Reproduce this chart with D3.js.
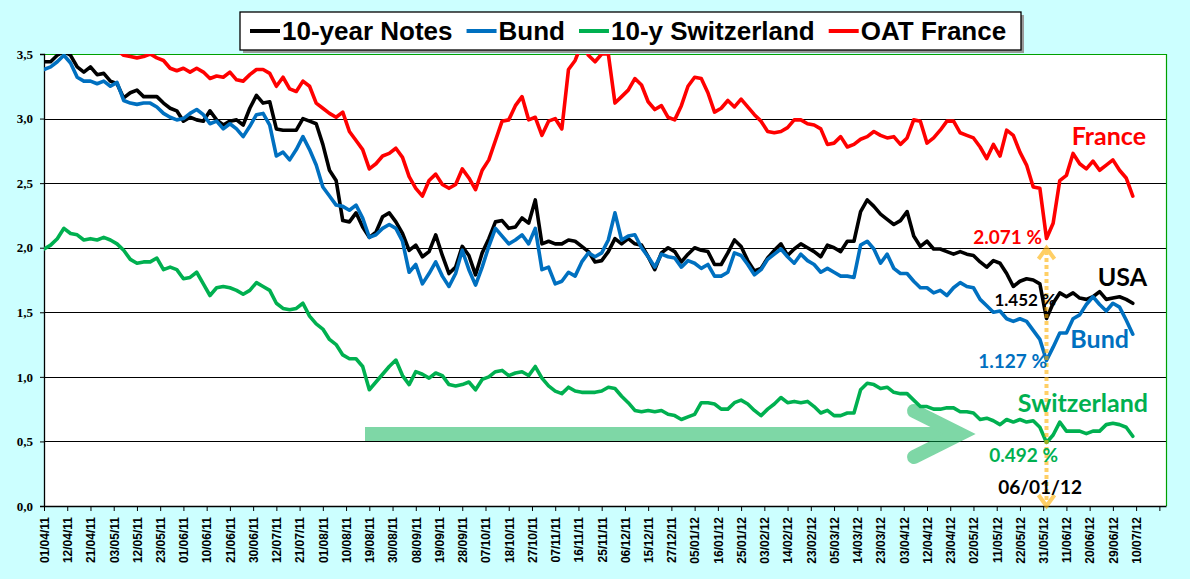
<!DOCTYPE html>
<html><head><meta charset="utf-8">
<script src="https://cdn.jsdelivr.net/npm/d3@7"></script>
<style>
body{margin:0;background:#CCFFFF;overflow:hidden}
svg{display:block}
</style>
</head><body>
<svg id="chart" width="1190" height="579"></svg>
<script>
// ---------- DATA ----------
const tickLabels = ["01/04/11","12/04/11","21/04/11","03/05/11","12/05/11","23/05/11","01/06/11","10/06/11","21/06/11","30/06/11","12/07/11","21/07/11","01/08/11","10/08/11","19/08/11","30/08/11","08/09/11","19/09/11","28/09/11","07/10/11","18/10/11","27/10/11","07/11/11","16/11/11","25/11/11","06/12/11","15/12/11","27/12/11","05/01/12","16/01/12","25/01/12","03/02/12","14/02/12","23/02/12","05/03/12","14/03/12","23/03/12","03/04/12","12/04/12","23/04/12","02/05/12","11/05/12","22/05/12","31/05/12","11/06/12","20/06/12","29/06/12","10/07/12"];
const yTickValues = [0, 0.5, 1.0, 1.5, 2.0, 2.5, 3.0, 3.5];
const daysPerLabel = 7;       // trading days between labelled ticks
const daysPerSample = 2;      // trading days between values below
const totalDays = 338;

const seriesNames = ["10-year Notes", "Bund", "10-y Switzerland", "OAT France"];

const usNotes = [3.44,3.44,3.49,3.52,3.49,3.40,3.36,3.40,3.34,3.35,3.29,3.27,3.16,3.20,3.22,3.17,3.17,3.17,3.12,3.08,3.06,2.98,3.01,2.99,2.98,3.06,2.99,2.95,2.98,2.99,2.95,3.08,3.18,3.12,3.13,2.92,2.91,2.91,2.91,3.00,2.98,2.96,2.80,2.60,2.52,2.21,2.20,2.27,2.16,2.08,2.12,2.24,2.27,2.20,2.11,1.98,2.02,1.93,1.97,2.10,1.94,1.80,1.85,2.01,1.94,1.79,1.96,2.07,2.20,2.21,2.15,2.16,2.23,2.19,2.37,2.03,2.05,2.03,2.03,2.06,2.05,2.01,1.97,1.89,1.90,1.97,2.07,2.03,2.07,2.03,2.02,1.93,1.83,1.96,2.00,1.97,1.89,1.95,2.00,1.98,1.97,1.87,1.87,1.96,2.06,2.01,1.90,1.82,1.84,1.92,1.98,2.03,1.94,1.99,2.03,2.00,1.97,1.93,2.02,2.00,1.97,2.05,2.05,2.28,2.37,2.32,2.26,2.22,2.18,2.21,2.28,2.09,2.01,2.05,1.99,1.99,1.97,1.95,1.97,1.95,1.94,1.89,1.85,1.90,1.88,1.80,1.70,1.74,1.76,1.75,1.72,1.452,1.57,1.65,1.62,1.65,1.61,1.60,1.62,1.66,1.60,1.61,1.62,1.60,1.57];

const bund = [3.38,3.40,3.44,3.49,3.43,3.32,3.29,3.29,3.27,3.29,3.25,3.28,3.14,3.12,3.11,3.12,3.12,3.09,3.04,3.01,2.99,3.00,3.04,3.07,3.03,2.96,2.98,2.92,2.96,2.92,2.86,2.94,3.03,3.04,2.95,2.71,2.74,2.68,2.76,2.86,2.76,2.64,2.47,2.40,2.33,2.32,2.29,2.33,2.23,2.08,2.10,2.15,2.18,2.15,2.05,1.81,1.87,1.72,1.80,1.89,1.78,1.70,1.80,1.98,1.83,1.71,1.85,2.01,2.15,2.09,2.03,2.06,2.10,2.03,2.15,1.83,1.85,1.72,1.74,1.81,1.78,1.89,1.96,1.93,1.96,2.06,2.27,2.06,2.09,2.10,2.00,1.93,1.85,1.95,1.93,1.92,1.85,1.90,1.88,1.84,1.87,1.78,1.78,1.81,1.96,1.94,1.87,1.79,1.83,1.91,1.95,1.99,1.93,1.88,1.95,1.90,1.87,1.81,1.84,1.81,1.78,1.78,1.77,2.02,2.05,1.99,1.88,1.95,1.84,1.80,1.80,1.74,1.69,1.69,1.65,1.67,1.63,1.69,1.73,1.70,1.69,1.60,1.55,1.50,1.51,1.45,1.43,1.45,1.43,1.36,1.29,1.127,1.23,1.34,1.34,1.45,1.48,1.56,1.62,1.56,1.51,1.57,1.54,1.44,1.33];

const swiss = [1.99,2.02,2.07,2.15,2.11,2.10,2.06,2.07,2.06,2.08,2.06,2.03,1.98,1.91,1.88,1.89,1.89,1.92,1.83,1.85,1.83,1.76,1.77,1.81,1.72,1.63,1.69,1.70,1.69,1.67,1.64,1.67,1.73,1.70,1.67,1.57,1.53,1.52,1.53,1.57,1.47,1.41,1.37,1.29,1.25,1.17,1.14,1.14,1.08,0.90,0.96,1.02,1.08,1.13,1.01,0.94,1.04,1.02,0.99,1.03,1.01,0.94,0.93,0.94,0.96,0.90,0.98,1.00,1.04,1.05,1.01,1.03,1.04,1.01,1.08,0.99,0.93,0.89,0.87,0.92,0.89,0.88,0.88,0.88,0.89,0.92,0.91,0.85,0.80,0.74,0.73,0.74,0.73,0.74,0.71,0.70,0.67,0.69,0.71,0.80,0.80,0.79,0.75,0.75,0.80,0.82,0.79,0.74,0.70,0.75,0.79,0.84,0.80,0.81,0.80,0.81,0.77,0.72,0.74,0.70,0.70,0.72,0.72,0.90,0.95,0.94,0.91,0.92,0.88,0.87,0.87,0.82,0.77,0.77,0.75,0.75,0.76,0.76,0.73,0.73,0.72,0.67,0.68,0.66,0.63,0.67,0.65,0.67,0.65,0.66,0.61,0.492,0.55,0.65,0.58,0.58,0.58,0.56,0.58,0.58,0.63,0.64,0.63,0.61,0.54];

const oatFrance = [3.62,3.64,3.66,3.68,3.66,3.63,3.60,3.62,3.60,3.58,3.56,3.53,3.49,3.48,3.47,3.48,3.50,3.47,3.45,3.39,3.37,3.39,3.36,3.39,3.36,3.31,3.33,3.32,3.36,3.30,3.29,3.34,3.38,3.38,3.35,3.25,3.32,3.23,3.21,3.29,3.25,3.12,3.08,3.04,3.01,3.05,2.90,2.83,2.76,2.61,2.65,2.71,2.73,2.77,2.70,2.55,2.46,2.40,2.52,2.57,2.49,2.46,2.49,2.61,2.54,2.45,2.60,2.68,2.83,2.98,2.99,3.10,3.17,2.99,3.01,2.87,2.98,3.00,2.92,3.38,3.45,3.58,3.49,3.44,3.50,3.50,3.12,3.17,3.22,3.31,3.26,3.13,3.07,3.10,3.01,2.99,3.10,3.25,3.32,3.31,3.20,3.05,3.08,3.14,3.09,3.15,3.09,3.03,2.98,2.90,2.89,2.90,2.93,2.99,2.99,2.96,2.95,2.92,2.80,2.81,2.86,2.78,2.80,2.84,2.86,2.90,2.87,2.85,2.86,2.80,2.85,2.99,2.98,2.81,2.85,2.91,2.98,2.98,2.89,2.87,2.85,2.78,2.69,2.80,2.71,2.91,2.87,2.74,2.64,2.47,2.46,2.071,2.19,2.52,2.56,2.73,2.65,2.61,2.67,2.60,2.64,2.68,2.60,2.54,2.40];

const lowDayIndex = 302;  // 06/01/12
const lowLabels = ["2.071 %", "1.452 %", "1.127 %", "0.492 %"];
const countryLabels = ["France", "USA", "Bund", "Switzerland"];
const dateLabel = "06/01/12";

// ---------- SETUP ----------
const colors = ["#000000", "#0070C0", "#00B050", "#FF0000"];
const allSeries = [usNotes, bund, swiss, oatFrance];

const svg = d3.select("#chart");
const W = 1190, H = 579;
const plot = {left: 44, right: 1166, top: 54, bottom: 506};

const x = d3.scaleLinear().domain([0, totalDays]).range([plot.left, plot.right]);
const y = d3.scaleLinear().domain([0, 3.5]).range([plot.bottom, plot.top]);

svg.append("rect").attr("width", W).attr("height", H).attr("fill", "#CCFFFF");
svg.append("rect").attr("x", plot.left).attr("y", plot.top)
   .attr("width", plot.right - plot.left).attr("height", plot.bottom - plot.top)
   .attr("fill", "#ffffff");

svg.append("defs").append("clipPath").attr("id", "clip")
   .append("rect").attr("x", plot.left).attr("y", plot.top)
   .attr("width", plot.right - plot.left).attr("height", plot.bottom - plot.top);

// gridlines
svg.append("g").selectAll("line")
   .data(yTickValues.filter(v => v > 0 && v < 3.5))
   .join("line")
   .attr("x1", plot.left).attr("x2", plot.right)
   .attr("y1", d => Math.round(y(d)) + 0.5).attr("y2", d => Math.round(y(d)) + 0.5)
   .attr("stroke", "#000").attr("stroke-width", 1.2);

// plot border top/right (green)
svg.append("path")
   .attr("d", `M${plot.left},${plot.top + 0.5}H${plot.right + 0.5}V${plot.bottom}`)
   .attr("fill", "none").attr("stroke", "#00A000").attr("stroke-width", 1.2);

// y axis
const yAxis = d3.axisLeft(y).tickValues(yTickValues).tickSize(4).tickPadding(7)
   .tickFormat(d => d3.format(".1f")(d).replace(".", ","));
const gy = svg.append("g").attr("transform", `translate(${plot.left},0)`).call(yAxis);
gy.select(".domain").attr("stroke", "#000").attr("stroke-width", 1.3);
gy.selectAll(".tick line").attr("stroke", "#000");
gy.selectAll("text").attr("font-family", "'Liberation Serif', 'Times New Roman', serif")
   .attr("font-weight", "bold").attr("font-size", 13).attr("fill", "#000");

// x axis
const tickDays = d3.range(0, tickLabels.length + 1).map(k => k * daysPerLabel);
const xAxis = d3.axisBottom(x).tickValues(tickDays).tickSize(5).tickSizeOuter(0)
   .tickFormat((d, k) => tickLabels[k] || "");
const gx = svg.append("g").attr("transform", `translate(0,${plot.bottom})`).call(xAxis);
gx.select(".domain").attr("stroke", "#000").attr("stroke-width", 1.3);
gx.selectAll(".tick line").attr("stroke", "#000");
gx.selectAll("text")
   .attr("font-family", "'Liberation Sans', Arial, sans-serif")
   .attr("font-weight", "bold").attr("font-size", 12).attr("fill", "#000")
   .attr("text-anchor", "end")
   .attr("transform", "rotate(-90)")
   .attr("x", -11).attr("y", 0).attr("dy", "0.36em");

// green arrow (behind lines)
const arrowG = svg.append("g").attr("opacity", 0.5);
arrowG.append("line").attr("x1", 365).attr("x2", 952).attr("y1", 434).attr("y2", 434)
   .attr("stroke", "#00B050").attr("stroke-width", 14);
arrowG.append("polyline").attr("points", "914,411 960,434 914,457")
   .attr("fill", "none").attr("stroke", "#00B050").attr("stroke-width", 14)
   .attr("stroke-linecap", "round").attr("stroke-linejoin", "miter");

// lines
const line = d3.line()
   .x((d, k) => x(k * daysPerSample))
   .y(d => y(d));
const linesG = svg.append("g").attr("clip-path", "url(#clip)");
allSeries.forEach((s, k) => {
  linesG.append("path").datum(s)
    .attr("d", line)
    .attr("fill", "none")
    .attr("stroke", colors[k])
    .attr("stroke-width", 3.6)
    .attr("stroke-linejoin", "round")
    .attr("stroke-linecap", "round");
});

// dotted orange vertical arrow at the low
const xl = x(lowDayIndex);
const dg = svg.append("g").attr("opacity", 0.6);
dg.append("line").attr("x1", xl).attr("x2", xl).attr("y1", 251).attr("y2", 503)
   .attr("stroke", "#FFB000").attr("stroke-width", 4).attr("stroke-dasharray", "4,3");
dg.append("polyline").attr("points", `${xl-8},259 ${xl},248 ${xl+8},259`)
   .attr("fill", "none").attr("stroke", "#FFB000").attr("stroke-width", 4);
dg.append("polyline").attr("points", `${xl-8},495 ${xl},506 ${xl+8},495`)
   .attr("fill", "none").attr("stroke", "#FFB000").attr("stroke-width", 4);

// annotations
const annFont = "Lato, 'Open Sans', sans-serif";
const ann = svg.append("g").attr("font-family", annFont).attr("font-weight", "bold");
const bigAnn = [
  {t: countryLabels[0], x: 1146, y: 145, c: colors[3]},
  {t: countryLabels[1], x: 1147, y: 286, c: colors[0]},
  {t: countryLabels[2], x: 1129, y: 348, c: colors[1]},
  {t: countryLabels[3], x: 1148, y: 412, c: colors[2]}
];
ann.selectAll("text.big").data(bigAnn).join("text").attr("class", "big")
   .attr("x", d => d.x).attr("y", d => d.y).attr("text-anchor", "end")
   .attr("font-size", 25).attr("fill", d => d.c).text(d => d.t);
const pctAnn = [
  {t: lowLabels[0], x: 1042, y: 244, c: colors[3], s: 19},
  {t: lowLabels[1], x: 1056, y: 306, c: colors[0], s: 17},
  {t: lowLabels[2], x: 1047, y: 368, c: colors[1], s: 19},
  {t: lowLabels[3], x: 1058, y: 462, c: colors[2], s: 19}
];
ann.selectAll("text.pct").data(pctAnn).join("text").attr("class", "pct")
   .attr("x", d => d.x).attr("y", d => d.y).attr("text-anchor", "end")
   .attr("font-size", d => d.s).attr("fill", d => d.c).text(d => d.t);
ann.append("text").attr("x", 1082).attr("y", 494).attr("text-anchor", "end")
   .attr("font-size", 19).attr("fill", "#000").text(dateLabel);

// legend
const lg = svg.append("g");
lg.append("rect").attr("x", 243).attr("y", 15).attr("width", 781).attr("height", 38)
   .attr("fill", "#9a9a9a");
lg.append("rect").attr("x", 240).attr("y", 12).attr("width", 781).attr("height", 38)
   .attr("fill", "#fff").attr("stroke", "#000").attr("stroke-width", 1.3);
let lx = 250;
seriesNames.forEach((name, k) => {
  lg.append("line").attr("x1", lx).attr("x2", lx + 30).attr("y1", 31).attr("y2", 31)
    .attr("stroke", colors[k]).attr("stroke-width", 4);
  const t = lg.append("text").attr("x", lx + 32).attr("y", 40)
    .attr("font-family", "'Liberation Sans', Arial, sans-serif")
    .attr("font-weight", "bold").attr("font-size", 26).attr("fill", "#000").text(name);
  lx += 32 + t.node().getComputedTextLength() + 14;
});
</script>
</body></html>
